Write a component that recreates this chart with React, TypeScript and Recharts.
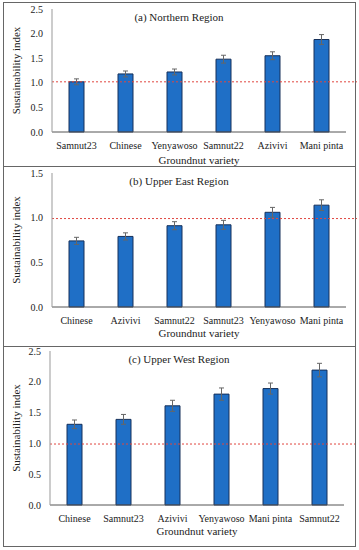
import { BarChart, Bar, XAxis, YAxis, ErrorBar, ReferenceLine } from "recharts";

const northernVarieties = ["Samnut23", "Chinese", "Yenyawoso", "Samnut22", "Azivivi", "Mani pinta"];
const northernIndex = [1.02, 1.18, 1.22, 1.48, 1.55, 1.88];
const northernError = [0.06, 0.06, 0.06, 0.08, 0.08, 0.1];

const upperEastVarieties = ["Chinese", "Azivivi", "Samnut22", "Samnut23", "Yenyawoso", "Mani pinta"];
const upperEastIndex = [0.74, 0.79, 0.91, 0.92, 1.06, 1.14];
const upperEastError = [0.04, 0.04, 0.045, 0.05, 0.055, 0.06];

const upperWestVarieties = ["Chinese", "Samnut23", "Azivivi", "Yenyawoso", "Mani pinta", "Samnut22"];
const upperWestIndex = [1.31, 1.39, 1.61, 1.8, 1.89, 2.19];
const upperWestError = [0.07, 0.08, 0.09, 0.1, 0.09, 0.11];

const ticksA = [0, 0.5, 1, 1.5, 2, 2.5];
const ticksB = [0, 0.5, 1, 1.5];
const ticksC = [0, 0.5, 1, 1.5, 2, 2.5];

const FONT = "Times New Roman, Tinos, DejaVu Serif Condensed";
const BAR_FILL = "#1f6fc6";
const BAR_STROKE = "#16305a";
const TEXT = "#222";

const toRows = (names: string[], vals: number[], errs: number[]) =>
  names.map((name, i) => ({ name, value: vals[i], err: errs[i] }));

// red threshold line, stretched a bit past the axis end like the original
const dashedLine = (p: any) => (
  <line
    x1={p.x1}
    y1={p.y1}
    x2={p.x2 + 11}
    y2={p.y2}
    stroke="#e0463f"
    strokeWidth={1}
    strokeDasharray="2 2"
  />
);

function Panel({
  title,
  rows,
  ticks,
  domainMax,
  top,
  height,
  margin,
  xHeight,
  yWidth,
  refY,
  titleY,
  xLabelOffset,
}: {
  title: string;
  rows: { name: string; value: number; err: number }[];
  ticks: number[];
  domainMax: number;
  top: number;
  height: number;
  margin: { top: number; right: number; left: number; bottom: number };
  xHeight: number;
  yWidth: number;
  refY: number;
  titleY: number;
  xLabelOffset: number;
}) {
  return (
    <div style={{ position: "absolute", left: 0, top, width: 359, height }}>
      <BarChart width={359} height={height} data={rows} margin={margin} barCategoryGap="0%">
        <XAxis
          dataKey="name"
          height={xHeight}
          tickLine={false}
          tickSize={6}
          tickMargin={4}
          interval={0}
          stroke="#555"
          tick={{ fontSize: 10, fill: TEXT, fontFamily: FONT }}
          label={{
            value: "Groundnut variety",
            position: "insideBottom",
            offset: xLabelOffset,
            fill: TEXT,
            fontSize: 11,
            fontFamily: FONT,
          }}
        />
        <YAxis
          width={yWidth}
          domain={[0, domainMax]}
          ticks={ticks}
          tickLine={false}
          tickSize={6}
          tickMargin={3}
          stroke="#999"
          tickFormatter={(v: number) => v.toFixed(1)}
          tick={{ fontSize: 10, fill: TEXT, fontFamily: FONT }}
          label={{
            value: "Sustainability index",
            angle: -90,
            position: "insideLeft",
            offset: 16,
            fill: TEXT,
            fontSize: 11,
            fontFamily: FONT,
            style: { textAnchor: "middle" },
          }}
        />
        <Bar dataKey="value" barSize={15} fill={BAR_FILL} stroke={BAR_STROKE} strokeWidth={1} isAnimationActive={false}>
          <ErrorBar dataKey="err" width={2.5} stroke="#666" strokeWidth={1} isAnimationActive={false} />
        </Bar>
        <ReferenceLine y={refY} shape={dashedLine} />
      </BarChart>
      <div
        style={{
          position: "absolute",
          left: 0,
          width: 358,
          top: titleY,
          textAlign: "center",
          fontFamily: FONT,
          fontSize: 11,
          color: TEXT,
          lineHeight: "12px",
        }}
      >
        {title}
      </div>
    </div>
  );
}

export default function App() {
  return (
    <div style={{ position: "absolute", left: 0, top: 0, width: 359, height: 550, background: "#fff" }}>
      <Panel
        title="(a) Northern Region"
        rows={toRows(northernVarieties, northernIndex, northernError)}
        ticks={ticksA}
        domainMax={2.5}
        top={0}
        height={166}
        margin={{ top: 9, right: 13, left: 0, bottom: 0 }}
        xHeight={34}
        yWidth={52}
        refY={1.02}
        titleY={11}
        xLabelOffset={2}
      />
      <Panel
        title="(b) Upper East Region"
        rows={toRows(upperEastVarieties, upperEastIndex, upperEastError)}
        ticks={ticksB}
        domainMax={1.5}
        top={166}
        height={180}
        margin={{ top: 7, right: 13, left: 0, bottom: 0 }}
        xHeight={39}
        yWidth={52}
        refY={0.99}
        titleY={9}
        xLabelOffset={9}
      />
      <Panel
        title="(c) Upper West Region"
        rows={toRows(upperWestVarieties, upperWestIndex, upperWestError)}
        ticks={ticksC}
        domainMax={2.5}
        top={346}
        height={200}
        margin={{ top: 5, right: 15, left: 0, bottom: 0 }}
        xHeight={41}
        yWidth={50}
        refY={0.99}
        titleY={7}
        xLabelOffset={11}
      />
      <div
        style={{
          position: "absolute",
          left: 3,
          top: 2,
          width: 351,
          height: 543,
          border: "1px solid #666",
          pointerEvents: "none",
        }}
      />
      <div style={{ position: "absolute", left: 3, top: 166, width: 353, height: 1, background: "#666" }} />
      <div style={{ position: "absolute", left: 3, top: 346, width: 353, height: 1, background: "#666" }} />
    </div>
  );
}
